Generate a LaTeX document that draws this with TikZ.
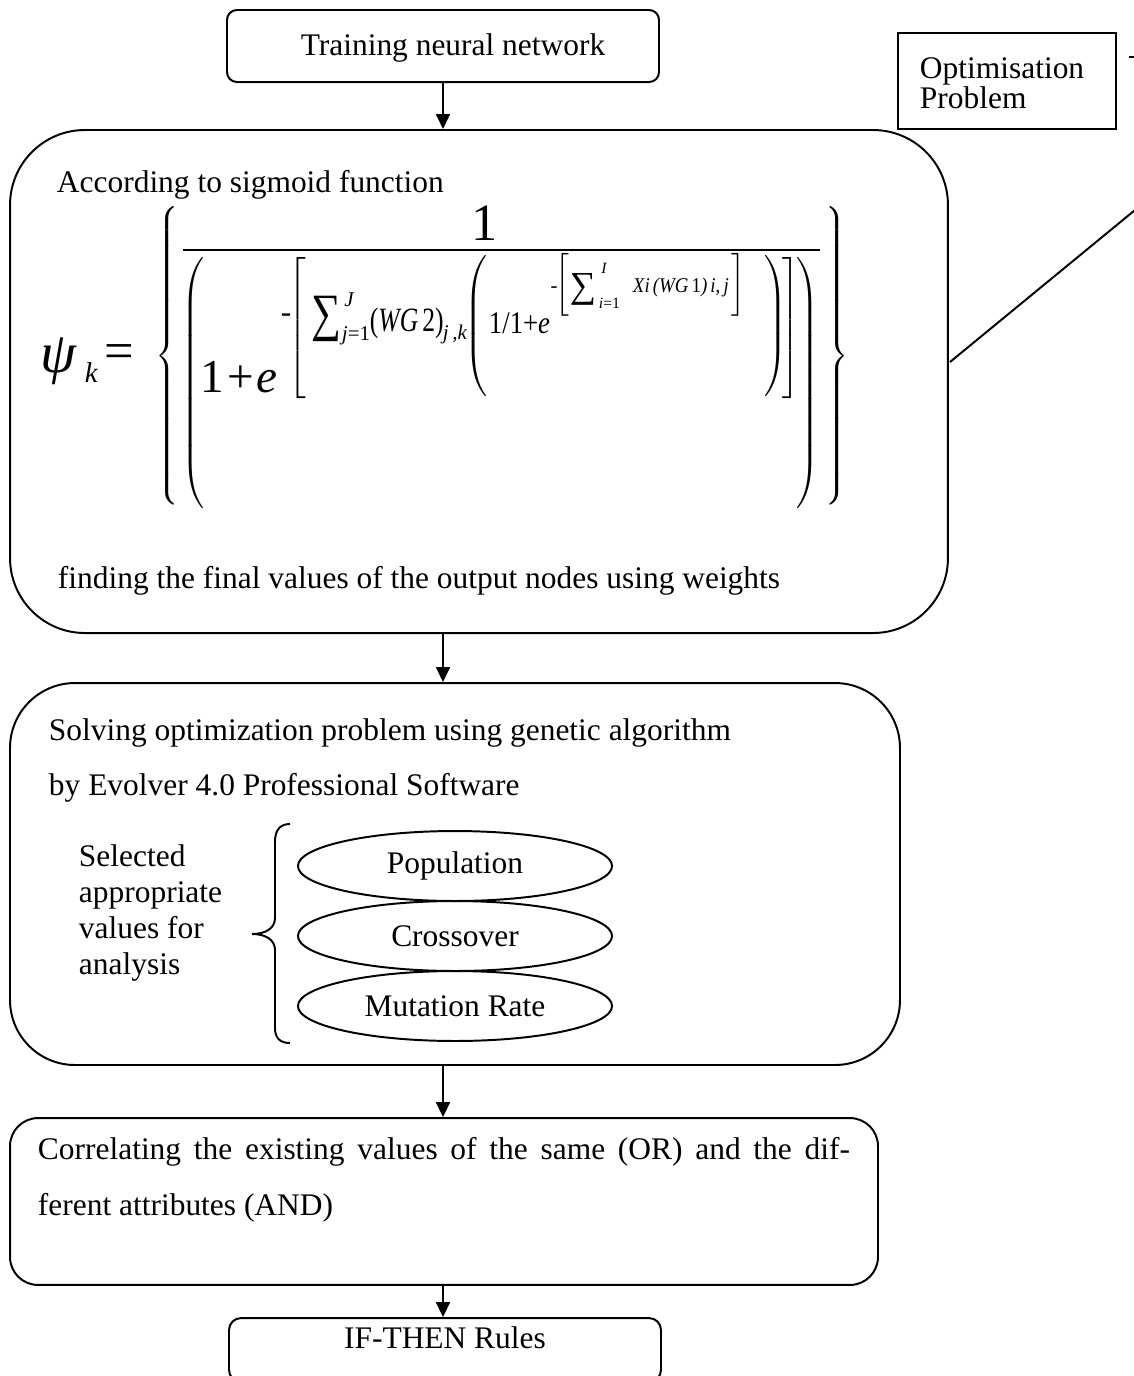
\documentclass[tikz,border=0pt]{standalone}
\usepackage{fontspec}
\usepackage{graphicx}
\setmainfont{Liberation Serif}
\usetikzlibrary{arrows.meta,shapes.geometric}
\newdimen\pxu
\pxu=0.3817pt
\newcommand\fsz[1]{\fontsize{#1}{#1}\selectfont}
\newcommand\narrow[2]{\scalebox{#1}[1]{#2}}
% extensible delimiters of a given height (in drawing units)
\newcommand\ldelim[2]{$\nulldelimiterspace=0pt \delimiterfactor=1000 \delimitershortfall=0pt \left#1\vcenter{\hbox{\rule{0pt}{#2\pxu}}}\right.$}
\newcommand\rdelim[2]{$\nulldelimiterspace=0pt \delimiterfactor=1000 \delimitershortfall=0pt \left.\vcenter{\hbox{\rule{0pt}{#2\pxu}}}\right#1$}
\begin{document}
\begin{tikzpicture}[x=0.3817pt,y=-0.3817pt,line width=0.75pt,
  rbox/.style={draw,inner sep=0pt,font=\fsz{12}},
  txt/.style={inner sep=0pt,anchor=base west,font=\fsz{12}},
  ctxt/.style={inner sep=0pt,anchor=base,font=\fsz{12}},
  dlm/.style={inner sep=0pt},
  flow/.style={-{Triangle[length=5.7pt,width=5.3pt]}},
  oval/.style={draw,ellipse,inner sep=0pt,minimum width=119.9pt,minimum height=26.7pt,font=\fsz{12}}]
\useasboundingbox (0,0) rectangle (1134,1376);
\fill[white] (0,0) rectangle (1134,1376);
\clip (0,0) rectangle (1134,1376);

% --- boxes ---
\node[rbox,rounded corners=3.8pt,minimum width=164.9pt,minimum height=27.5pt] (top) at (443,46) {};
\node[rbox,rounded corners=28.6pt,minimum width=358pt,minimum height=192pt] (sig) at (479,381.5) {};
\node[rbox,rounded corners=24.8pt,minimum width=339.7pt,minimum height=145.8pt] (solve) at (455,874) {};
\node[rbox,rounded corners=10.7pt,minimum width=331.3pt,minimum height=63.7pt] (corr) at (444,1201.5) {};
\node[rbox,rounded corners=4.6pt,minimum width=164.9pt,minimum height=24.4pt] (rules) at (445,1350) {};
\node[rbox,minimum width=83.2pt,minimum height=36.6pt] (opt) at (1007,81) {};

% --- connectors ---
\draw[flow] (top.south) -- (top.south |- sig.north);
\draw[flow] (sig.south -| top) -- (solve.north -| top);
\draw[flow] (solve.south -| top) -- (corr.north -| top);
\draw[flow] (corr.south -| top) -- (rules.north -| top);
\coordinate (lineA) at (950,362);
\coordinate (lineB) at (1258,109);
\draw (lineA) -- (lineB);
\coordinate (dashA) at (1129,57);
\draw (dashA) -- ++(12,0);

% --- box labels ---
\node[ctxt] (toptxt) at (453,55) {Training neural network};
\node[txt] (opt1) at (919,78) {Optimisation};
\node[txt] (opt2) at (919,108) {Problem};

% --- sigmoid box contents ---
\node[txt] (according) at (56,192) {According to sigmoid function};
\node[txt,font=\fsz{22}\itshape] (psi) at (40,372) {ψ};
\node[txt,font=\fsz{11}\itshape] (psik) at (84,382) {k};
\node[txt,font=\fsz{20}] (eq) at (104,368) {=};
\node[dlm] (lbrace) at (167,356) {\ldelim\{{298}};
\node[dlm] (rbrace) at (837,356) {\rdelim\}{298}};
\coordinate (barL) at (183,250);
\coordinate (barR) at (820,250);
\draw[line width=0.8pt] (barL) -- (barR);
\node[inner sep=0pt,anchor=base,font=\fsz{20}] (num) at (485,240) {1};
\node[dlm] (lpar) at (193,383) {\ldelim({245}};
\node[dlm] (rpar) at (808,383) {\rdelim){245}};
\node[txt,font=\fsz{18}] (onepe) at (200,392) {1\kern1pt+\kern1pt\textit{e}};
% exponent of e
\node[inner sep=0pt,font=\fsz{12}] (m1) at (286,318) {-};
\node[dlm] (lbr1) at (297,328) {\ldelim[{132}};
\node[inner sep=0pt,font=\fsz{20}] (sum1) at (326,319) {\narrow{0.8}{∑}};
\node[inner sep=0pt,font=\fsz{8}\itshape] (supJ) at (349,300) {J};
\node[txt,font=\fsz{8}] (subj) at (341,340) {\textit{j}=1};
\node[txt,font=\fsz{13}] (wg2) at (369,331) {\narrow{0.75}{(\textit{WG}\,2)}};
\node[txt,font=\fsz{8}\itshape] (subjk) at (442,339) {j\,,k};
\node[dlm] (lp2) at (476,326) {\ldelim({128}};
\node[txt,font=\fsz{12}] (inner) at (488,333) {\narrow{0.85}{1/1+\textit{e}}};
% inner exponent
\node[inner sep=0pt,font=\fsz{8}] (m2) at (554,290) {-};
\node[dlm] (lbr2) at (562,285) {\ldelim[{50}};
\node[inner sep=0pt,font=\fsz{14}] (sum2) at (583,289) {∑};
\node[inner sep=0pt,font=\fsz{6}\itshape] (supI) at (604,268) {I};
\node[txt,font=\fsz{6}] (subi) at (598,308) {\textit{i}=1};
\node[txt,font=\fsz{8}\itshape] (xi) at (632,292) {\narrow{0.9}{Xi\,(WG\,{\upshape 1})\,i,\,j}};
\node[dlm] (rbr2) at (738,285) {\rdelim]{50}};
\node[dlm] (rp2) at (776,326) {\rdelim){128}};
\node[dlm] (rbr1) at (791,328) {\rdelim]{132}};
\node[txt] (finding) at (57,588) {finding the final values of the output nodes using weights};

% --- genetic algorithm box contents ---
\node[txt] (solve1) at (48,740) {Solving optimization problem using genetic algorithm};
\node[txt] (solve2) at (48,795) {by Evolver 4.0 Professional Software};
\node[txt] (sel1) at (78,866) {Selected};
\node[txt] (sel2) at (78,902) {appropriate};
\node[txt] (sel3) at (78,938) {values for};
\node[txt] (sel4) at (78,974) {analysis};
\draw (290,824) .. controls (280,824) and (275,830) .. (275,842) -- (275,918)
  .. controls (275,928) and (266,934) .. (252,934)
  .. controls (266,934) and (275,940) .. (275,950) -- (275,1028)
  .. controls (275,1038) and (280,1043) .. (290,1043);
\node[oval] (pop) at (455,866) {Population};
\node[oval] (cross) at (455,936) {Crossover};
\node[oval] (mut) at (455,1006) {Mutation Rate};

% --- correlation box contents ---
\node[txt] (corr1) at (37,1159) {\makebox[812\pxu][s]{Correlating the existing values of the same (OR) and the dif-}};
\node[txt] (corr2) at (37,1215) {ferent attributes (AND)};

% --- rules box text ---
\node[ctxt] (rulestxt) at (445,1348) {IF-THEN Rules};
\end{tikzpicture}
\end{document}
